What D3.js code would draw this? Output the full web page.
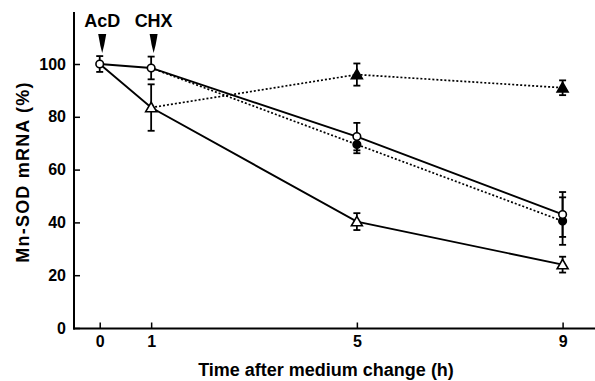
<!DOCTYPE html>
<html>
<head>
<meta charset="utf-8">
<script src="https://cdn.jsdelivr.net/npm/d3@7"></script>
<style>
  body { margin: 0; background: #fff; }
  svg text { font-family: "Liberation Sans", Arial, Helvetica, sans-serif; font-weight: bold; fill: #000; }
</style>
</head>
<body>
<div class="chart"></div>
<script>
// Mn-SOD mRNA after medium change

// data
var hours = [0, 1, 5, 9];
var xTicks = [0, 1, 5, 9];
var yTicks = [0, 20, 40, 60, 80, 100];

// control: open circles, solid line
var openCircle = [100, 98.5, 72.5, 43];
var openCircleErr = [3, 4.3, 5.2, 8.5];
// filled circles, dotted line (starts from the 1 h point)
var filledCircle = [null, 98.5, 69.5, 40.5];
var filledCircleErr = [0, 0, 3.3, 9];
// open triangles, solid line
var openTri = [100, 83.5, 40.3, 24];
var openTriErr = [0, 8.8, 3.2, 3];
// filled triangles, dotted line (starts from the 1 h open triangle)
var filledTri = [null, 83.5, 96, 91];
var filledTriErr = [0, 0, 4.2, 2.8];

var arrows = [{label: "AcD", t: 0}, {label: "CHX", t: 1}];

var svgWidth = 595, svgHeight = 381;
var svg = d3.select(".chart").append("svg").attr("width", svgWidth).attr("height", svgHeight);

var x = d3.scaleLinear().domain([-0.5, 9.63]).range([74, 595]);
var y = d3.scaleLinear().domain([0, 100]).range([328, 64]);

// axes (ticks point inward)
var yAxis = d3.axisLeft(y).tickValues(yTicks).tickSize(-6).tickPadding(8);
var xAxis = d3.axisBottom(x).tickValues(xTicks).tickSize(-6).tickPadding(7);

var gy = svg.append("g").attr("transform", "translate(74,0)").call(yAxis);
gy.select(".domain").remove();
svg.append("line").attr("x1", 74).attr("x2", 74).attr("y1", 12).attr("y2", 329.5)
  .attr("stroke", "#000").attr("stroke-width", 2);
gy.selectAll(".tick line").attr("stroke-width", 1.5);
gy.selectAll(".tick text").attr("font-size", 16);

var gx = svg.append("g").attr("transform", "translate(0,328.5)").call(xAxis);
gx.select(".domain").remove();
svg.append("line").attr("x1", 73).attr("x2", 595).attr("y1", 328.5).attr("y2", 328.5)
  .attr("stroke", "#000").attr("stroke-width", 2);
gx.selectAll(".tick line").attr("stroke-width", 1.5);
gx.selectAll(".tick text").attr("font-size", 16);

// axis titles
svg.append("text").attr("x", 326).attr("y", 376).attr("text-anchor", "middle")
  .attr("font-size", 18).text("Time after medium change (h)");
svg.append("text").attr("transform", "translate(29,172) rotate(-90)").attr("text-anchor", "middle")
  .attr("font-size", 18).attr("letter-spacing", 1.2).text("Mn-SOD mRNA (%)");

// helpers
function series(vals) {
  return hours.map(function(h, i) { return {t: h, v: vals[i]}; }).filter(function(d) { return d.v != null; });
}
var line = d3.line().x(function(d) { return x(d.t); }).y(function(d) { return y(d.v); });

function drawLine(vals, dashed) {
  svg.append("path").datum(series(vals)).attr("d", line)
    .attr("fill", "none").attr("stroke", "#000").attr("stroke-width", dashed ? 1.7 : 1.9)
    .attr("stroke-dasharray", dashed ? "2,2" : null);
}
function drawErr(vals, errs) {
  var g = svg.append("g");
  hours.forEach(function(h, i) {
    if (vals[i] == null || !errs[i]) return;
    var cx = x(h), y1 = y(vals[i] + errs[i]), y2 = y(vals[i] - errs[i]);
    g.append("line").attr("x1", cx).attr("x2", cx).attr("y1", y1).attr("y2", y2).attr("stroke", "#000").attr("stroke-width", 1.8);
    [y1, y2].forEach(function(yy) {
      g.append("line").attr("x1", cx - 3.5).attr("x2", cx + 3.5).attr("y1", yy).attr("y2", yy).attr("stroke", "#000").attr("stroke-width", 1.8);
    });
  });
}
function drawMarks(vals, shape, filled, skip) {
  var sym = d3.symbol().type(shape === "circle" ? d3.symbolCircle : d3.symbolTriangle).size(shape === "circle" ? 45 : 52);
  svg.append("g").selectAll("path").data(series(vals).filter(function(d) { return skip.indexOf(d.t) < 0; }))
    .enter().append("path")
    .attr("d", sym)
    .attr("transform", function(d) { return "translate(" + x(d.t) + "," + (y(d.v) + (shape === "circle" ? 0 : 1)) + ")"; })
    .attr("fill", filled ? "#000" : "#fff").attr("stroke", "#000").attr("stroke-width", 1.6);
}

drawLine(filledTri, true);
drawLine(filledCircle, true);
drawLine(openTri, false);
drawLine(openCircle, false);

drawErr(filledTri, filledTriErr);
drawErr(filledCircle, filledCircleErr);
drawErr(openTri, openTriErr);
drawErr(openCircle, openCircleErr);

drawMarks(filledTri, "tri", true, [1]);
drawMarks(filledCircle, "circle", true, [1]);
drawMarks(openTri, "tri", false, [0]);
drawMarks(openCircle, "circle", false, []);

// treatment arrows
arrows.forEach(function(a) {
  var ax = x(a.t) + 2.5;
  svg.append("text").attr("x", ax).attr("y", 27).attr("text-anchor", "middle").attr("font-size", 18).text(a.label);
  svg.append("path")
    .attr("d", "M" + (ax - 4) + ",34 L" + (ax + 4) + ",34 L" + (ax + 2) + ",45 L" + ax + ",53 L" + (ax - 2) + ",45 Z")
    .attr("fill", "#000");
});
</script>
</body>
</html>
